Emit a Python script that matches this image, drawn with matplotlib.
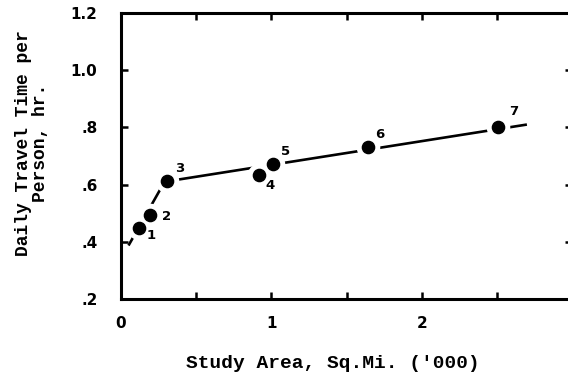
import matplotlib
matplotlib.use("Agg")
import matplotlib.pyplot as plt

# Data points (study area in '000 sq mi, daily travel time per person in hr)
area = [0.12, 0.19, 0.305, 0.92, 1.01, 1.64, 2.51]
travel_time = [0.447, 0.495, 0.611, 0.634, 0.672, 0.732, 0.803]
point_labels = ["1", "2", "3", "4", "5", "6", "7"]

# Fitted (hand-drawn) trend line nodes
fit_x = [0.05, 0.29, 2.70]
fit_y = [0.387, 0.61, 0.81]

xticks = [0, 0.5, 1, 1.5, 2, 2.5, 3]
xticklabels = ["0", "", "1", "", "2", "", "3"]
yticks = [0.2, 0.4, 0.6, 0.8, 1.0, 1.2]
yticklabels = [".2", ".4", ".6", ".8", "1.0", "1.2"]

# label offsets in points (dx, dy)
label_offsets = [(9, -5), (12, -1), (9, 9), (8, -8), (9, 9), (9, 9), (11, 11)]

W, H = 568, 375
fig = plt.figure(figsize=(W / 100, H / 100), dpi=100)
ax = fig.add_axes([121 / W, 1 - 299 / H, (572 - 121) / W, (299 - 13) / H])

ax.plot(fit_x, fit_y, color="black", lw=1.9, zorder=2, solid_capstyle="butt")
ax.plot(area, travel_time, "o", ms=17, mfc="white", mec="none", zorder=3)
ax.plot(area, travel_time, "o", ms=8.8, color="black", zorder=4)

for x, y, lab, (dx, dy) in zip(area, travel_time, point_labels, label_offsets):
    ax.annotate(lab, (x, y), xytext=(dx, dy), textcoords="offset points",
                ha="center", va="center", fontsize=9.5, fontweight="bold",
                family="DejaVu Sans", zorder=5)

ax.set_xlim(0, 3)
ax.set_ylim(0.2, 1.2)
ax.set_xticks(xticks)
ax.set_xticklabels(xticklabels)
ax.set_yticks(yticks)
ax.set_yticklabels(yticklabels)
ax.tick_params(direction="in", length=5, width=1.8, top=True, right=True,
               labelsize=11, pad=12)
ax.tick_params(axis="y", pad=17)
for lab in ax.get_xticklabels() + ax.get_yticklabels():
    lab.set_fontweight("bold")
for sp in ax.spines.values():
    sp.set_linewidth(2.2)

fig.text(333 / W, 1 - 364 / H, "Study Area, Sq.Mi. ('000)", ha="center", va="center",
         family="Liberation Mono", fontweight="bold", fontsize=14)
fig.text(32 / W, 1 - 143 / H, "Daily Travel Time per\nPerson, hr.", rotation=90,
         ha="center", va="center", multialignment="center", linespacing=0.95,
         family="Liberation Mono", fontweight="bold", fontsize=13)

fig.savefig("out.png", dpi=100)
